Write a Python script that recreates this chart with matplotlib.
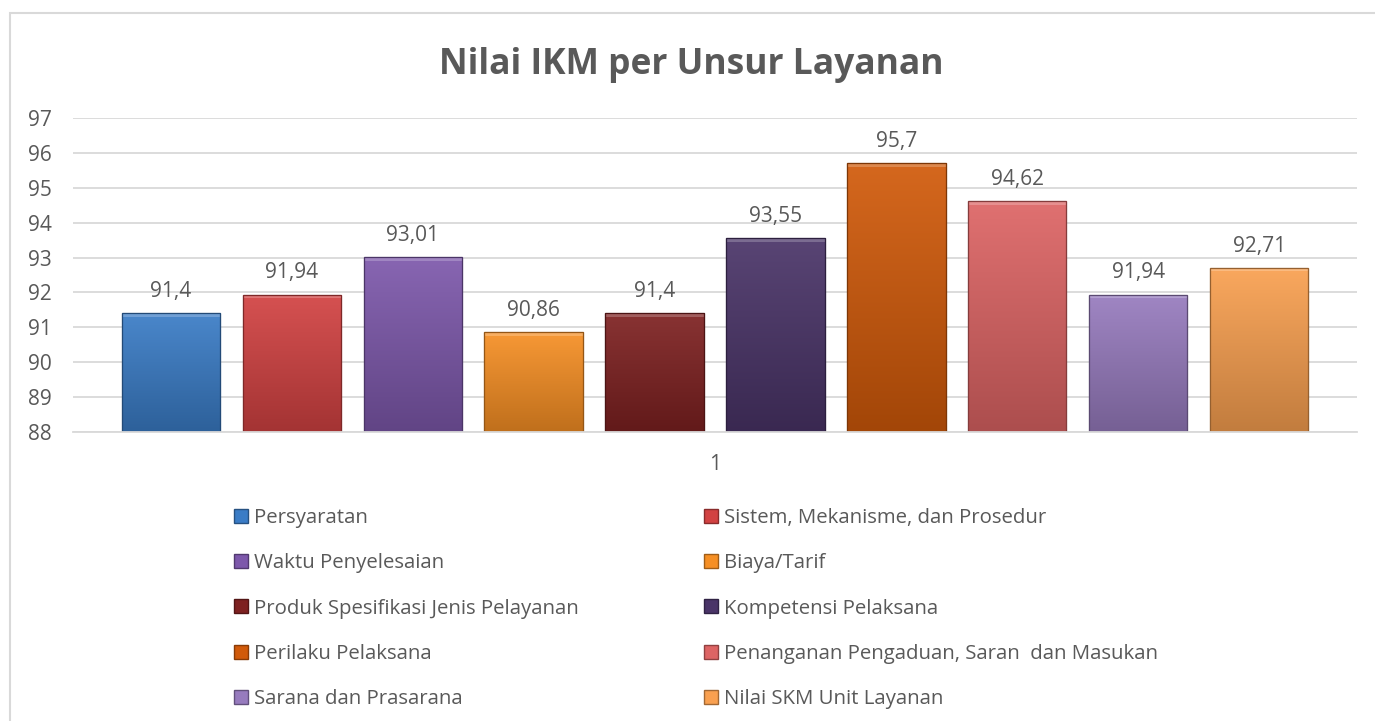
"""Bar chart: Nilai IKM per Unsur Layanan."""

import matplotlib
matplotlib.use("Agg")
import matplotlib.pyplot as plt
import numpy as np
from matplotlib.colors import to_rgb
from matplotlib.patches import Rectangle
from matplotlib.lines import Line2D

plt.rcParams["font.family"] = ["Open Sans", "DejaVu Sans"]

TEXT = "#595959"
GRID = "#D9D9D9"

unsur = [
    "Persyaratan",
    "Sistem, Mekanisme, dan Prosedur",
    "Waktu Penyelesaian",
    "Biaya/Tarif",
    "Produk Spesifikasi Jenis Pelayanan",
    "Kompetensi Pelaksana",
    "Perilaku Pelaksana",
    "Penanganan Pengaduan, Saran  dan Masukan",
    "Sarana dan Prasarana",
    "Nilai SKM Unit Layanan",
]
nilai = [91.4, 91.94, 93.01, 90.86, 91.4, 93.55, 95.7, 94.62, 91.94, 92.71]
warna = ["#3A7CC6", "#D24242", "#7D58AB", "#F68F24", "#7E2121",
         "#4A3468", "#D15A0A", "#DD6464", "#977BBE", "#F9A050"]
yticks = [88, 89, 90, 91, 92, 93, 94, 95, 96, 97]
category = 1


def shade(color, factor):
    r, g, b = to_rgb(color)
    if factor >= 0:
        return (r + (1 - r) * factor, g + (1 - g) * factor, b + (1 - b) * factor)
    return (r * (1 + factor), g * (1 + factor), b * (1 + factor))


fig = plt.figure(figsize=(13.75, 7.21), dpi=100)
ax = fig.add_axes([0.0531, 0.4008, 0.9338, 0.4355])

# chart frame (cropped on the right and bottom in the reference)
fig.patches.append(Rectangle((10 / 1375, -0.1), 1.2, 1 - 13 / 721 + 0.1,
                             transform=fig.transFigure, fill=False,
                             edgecolor=GRID, linewidth=1.5, zorder=0))

n = len(nilai)
step = 0.0942
width = 0.0765
offsets = (np.arange(n) - (n - 1) / 2) * step

bars = ax.bar(category + offsets, np.array(nilai) - yticks[0], width,
              bottom=yticks[0], color=warna, zorder=2,
              edgecolor=[shade(c, -0.35) for c in warna], linewidth=0.8)

# soft vertical gradient + light bevel on top of each bar
for bar, c in zip(bars, warna):
    x0, y0 = bar.get_x(), bar.get_y()
    w, h = bar.get_width(), bar.get_height()
    grad = np.linspace(0, 1, 64)[:, None]
    top = np.array(shade(c, 0.08))
    bot = np.array(shade(c, -0.22))
    img = top[None, None, :] * (1 - grad[..., None]) + bot[None, None, :] * grad[..., None]
    img = np.repeat(img, 2, axis=1)
    im = ax.imshow(img, extent=(x0, x0 + w, y0, y0 + h), aspect="auto",
                   origin="upper", zorder=2.1, interpolation="bicubic")
    im.set_clip_path(bar)
    ax.add_patch(Rectangle((x0, y0 + h - 0.1), w, 0.1, facecolor=shade(c, 0.3),
                           edgecolor="none", zorder=2.2, alpha=0.9))
    ax.add_patch(Rectangle((x0, y0), w, h, fill=False,
                           edgecolor=shade(c, -0.4), linewidth=0.9, zorder=2.3))

for x, v in zip(category + offsets, nilai):
    label = f"{v:g}".replace(".", ",")
    ax.annotate(label, (x, v), xytext=(0, 8), textcoords="offset points",
                ha="center", va="bottom", fontsize=15, color=TEXT)

ax.set_xlim(category - 0.5, category + 0.5)
ax.set_ylim(yticks[0], yticks[-1])
ax.set_yticks(yticks)
ax.set_xticks([category])
ax.set_xticklabels([str(category)])
ax.yaxis.grid(True, color=GRID, linewidth=1.3, zorder=0)
ax.set_axisbelow(True)
for side in ["left", "right", "top"]:
    ax.spines[side].set_visible(False)
ax.spines["bottom"].set_color(GRID)
ax.spines["bottom"].set_linewidth(1.3)
ax.tick_params(axis="both", length=0, labelsize=15, labelcolor=TEXT)
ax.tick_params(axis="y", pad=15)
ax.tick_params(axis="x", pad=16)

fig.text(0.503, 0.910, "Nilai IKM per Unsur Layanan", ha="center", va="center",
         fontsize=25.5, fontweight="bold", color=TEXT)

# legend: two columns, filled row by row
handles = [Line2D([], [], marker="s", linestyle="none", markersize=10,
                  markerfacecolor=c, markeredgecolor=shade(c, -0.35))
           for c in warna]
for col, x_anchor in enumerate([234 / 1375, 704 / 1375]):
    idx = list(range(col, n, 2))
    fig.legend([handles[i] for i in idx], [unsur[i] for i in idx],
               loc="upper left", bbox_to_anchor=(x_anchor, 1 - 508 / 721),
               frameon=False, fontsize=14.7, labelcolor=TEXT, handlelength=0.7,
               handletextpad=0.3, labelspacing=1.24, borderpad=0,
               borderaxespad=0)

fig.savefig("out.png", dpi=100)
